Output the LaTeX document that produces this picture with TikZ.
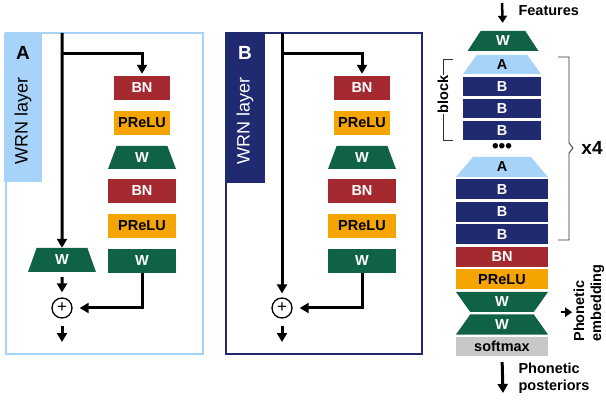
\documentclass[tikz,border=0pt]{standalone}
\usepackage{fontspec}
\setmainfont{Liberation Sans}
\usetikzlibrary{calc, positioning}
\usetikzlibrary{arrows.meta}
\usetikzlibrary{shapes.geometric}

\definecolor{wgreen}{HTML}{0F6344}
\definecolor{bnred}{HTML}{A52A2F}
\definecolor{preluorange}{HTML}{F5A500}
\definecolor{alightblue}{HTML}{A8D3F8}
\definecolor{bdarkblue}{HTML}{1F2A70}
\definecolor{smgray}{HTML}{C8C8C8}

\tikzset{
  layer/.style={minimum width=68pt, minimum height=24pt, inner sep=0pt,
    font=\fontsize{14.5}{14.5}\selectfont\bfseries},
  bnbox/.style={layer, fill=bnred, text=white},
  prelubox/.style={layer, fill=preluorange},
  wbox/.style={layer, fill=wgreen, text=white},
  wtrap/.style={layer, trapezium, trapezium stretches=true, trapezium angle=77,
    fill=wgreen, text=white},
  plusnode/.style={circle, draw, line width=1.3pt, minimum size=20pt, inner sep=0pt,
    font=\fontsize{17}{17}\selectfont},
  flow/.style={line width=3pt, -{Triangle[length=9pt,width=10pt]}},
  flowsmall/.style={line width=2.5pt, -{Triangle[length=7pt,width=9pt]}},
  stk/.style={minimum width=92pt, minimum height=20pt, inner sep=0pt,
    font=\fontsize{14.5}{14.5}\selectfont\bfseries},
  tabtext/.style={font=\fontsize{18}{18}\selectfont},
  lbl/.style={font=\fontsize{14.5}{17}\selectfont\bfseries, align=left},
}

\begin{document}
\begin{tikzpicture}[x=1pt, y=-1pt]
\useasboundingbox (0,0) rectangle (606,401);

% panel A
\draw[alightblue, line width=1.3pt] (6,33) rectangle (203,354);
\fill[alightblue] (4,33) rectangle (42,182);
\node[tabtext, font=\fontsize{19}{19}\selectfont\bfseries] (tagA) at (23,53) {A};
\node[tabtext, rotate=90] (wrnA) at (23,121) {WRN layer};

\node[bnbox, minimum width=56pt] (bnA1) at (142,88) {BN};
\node[prelubox, minimum width=56pt] (prA1) at (142,123) {PReLU};
\node[wtrap, minimum height=23pt] (wA1) at (142,157.5) {W};
\node[bnbox] (bnA2) at (142,191) {BN};
\node[prelubox] (prA2) at (142,226) {PReLU};
\node[wbox] (wA2) at (142,261) {W};
\node[wtrap] (wAs) at (62,260) {W};
\node[plusnode] (plusA) at (62,308) {+};

\coordinate (inA) at (62,33);
\coordinate (splitA) at (62,54);
\coordinate (outA) at (62,342);
\draw[flow] (inA) -- (wAs.north);
\draw[flow, shorten >=2pt] (splitA) -| (bnA1.north);
\draw[flow, shorten <=5pt, shorten >=5pt] (wAs.south) -- (plusA.north);
\draw[flow, shorten >=7pt] (wA2.south) |- (plusA.east);
\draw[flow, shorten <=7pt] (plusA.south) -- (outA);

% panel B
\draw[bdarkblue, line width=1.3pt] (226,33) rectangle (422,354);
\fill[bdarkblue] (225,33) rectangle (265,183);
\node[tabtext, text=white, font=\fontsize{19}{19}\selectfont\bfseries] (tagB) at (245,53) {B};
\node[tabtext, text=white, rotate=90] (wrnB) at (245,121) {WRN layer};

\node[bnbox, minimum width=56pt] (bnB1) at (362,88) {BN};
\node[prelubox, minimum width=56pt] (prB1) at (362,123) {PReLU};
\node[wtrap, minimum height=23pt] (wB1) at (362,157.5) {W};
\node[bnbox] (bnB2) at (362,191) {BN};
\node[prelubox] (prB2) at (362,226) {PReLU};
\node[wbox] (wB2) at (362,261) {W};
\node[plusnode] (plusB) at (282,308) {+};

\coordinate (inB) at (282,33);
\coordinate (splitB) at (282,54);
\coordinate (outB) at (282,342);
\draw[flow, shorten >=4pt] (inB) -- (plusB.north);
\draw[flow, shorten >=2pt] (splitB) -| (bnB1.north);
\draw[flow, shorten >=7pt] (wB2.south) |- (plusB.east);
\draw[flow, shorten <=7pt] (plusB.south) -- (outB);

% full network
\node[stk, trapezium, trapezium stretches=true, trapezium angle=68, minimum width=71pt,
  fill=wgreen, text=white] (wIn) at (503,41) {W};
\node[stk, trapezium, trapezium stretches=true, trapezium angle=74, minimum width=78pt,
  minimum height=19pt, fill=alightblue] (a1) at (502,64.5) {A};
\node[stk, minimum width=78pt, minimum height=19pt, fill=bdarkblue, text=white] (b1) at (502,86.5) {B};
\node[stk, minimum width=78pt, minimum height=19pt, fill=bdarkblue, text=white] (b2) at (502,108.5) {B};
\node[stk, minimum width=78pt, minimum height=19pt, fill=bdarkblue, text=white] (b3) at (502,130.5) {B};
\node[font=\fontsize{19}{19}\selectfont\bfseries, inner sep=0pt] (dots) at (502,148) {•••};
\node[stk, trapezium, trapezium stretches=true, trapezium angle=73,
  fill=alightblue] (a2) at (502,167) {A};
\node[stk, fill=bdarkblue, text=white] (b4) at (502,189.5) {B};
\node[stk, fill=bdarkblue, text=white] (b5) at (502,212) {B};
\node[stk, fill=bdarkblue, text=white] (b6) at (502,234.5) {B};
\node[stk, fill=bnred, text=white] (bnOut) at (502,257) {BN};
\node[stk, fill=preluorange] (prOut) at (502,279.5) {PReLU};
\node[stk, trapezium, trapezium stretches=true, trapezium angle=107,
  fill=wgreen, text=white] (wOut1) at (502,302) {W};
\node[stk, trapezium, trapezium stretches=true, trapezium angle=73,
  fill=wgreen, text=white] (wOut2) at (502,324.5) {W};
\node[stk, minimum height=19pt, fill=smgray] (sm) at (502,346.5) {softmax};

\coordinate (featIn) at (502,3);
\node[lbl, anchor=west] (feat) at (515,11) {Features};
\draw[flowsmall, shorten >=8pt] (featIn) -- (wIn.north);

\coordinate (postOut) at (503,393);
\draw[flow, shorten <=6pt] (sm.south) -- (postOut);
\node[lbl, anchor=west] (post) at (515,378) {Phonetic\\posteriors};

\draw[flowsmall, shorten <=13pt] (wOut1.south -| sm.east) -- ++(24pt,0);
\node[lbl, rotate=90] (emb) at (589,303) {Phonetic\\embedding};

% brackets
\draw[line width=0.8pt, black!80] (453,59) -- (443,59) -- (443,140) -- (453,140);
\node[lbl, rotate=90, fill=white, inner sep=1pt] (blk) at (443,94.5) {block};
\draw[line width=0.8pt, black!80] (558,57) -- (569,57) -- (569,143) -- (573,148)
  -- (569,153) -- (569,240) -- (558,240);
\node[font=\fontsize{19}{19}\selectfont\bfseries] (rep) at (592,148) {x4};
\end{tikzpicture}
\end{document}
